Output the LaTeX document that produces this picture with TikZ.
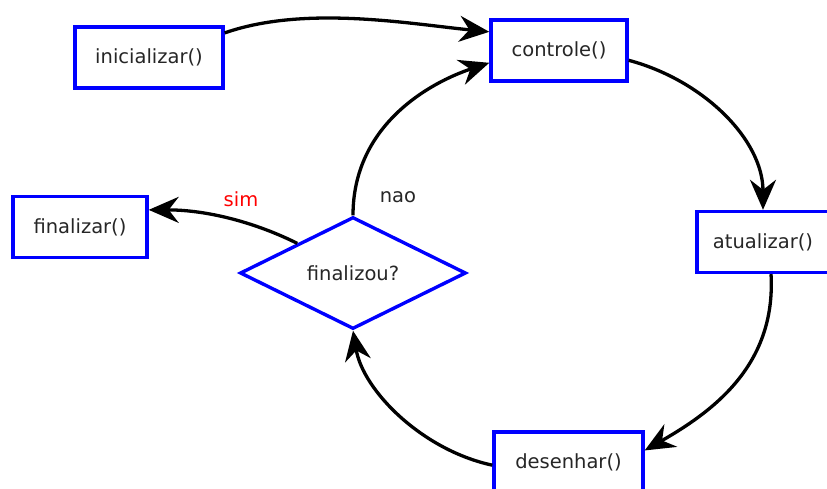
\documentclass[tikz,border=0pt]{standalone}
\usepackage{fontspec}
\setmainfont{DejaVu Sans}
\usetikzlibrary{shapes.geometric,arrows.meta}
\begin{document}
\begin{tikzpicture}[x=1pt,y=-1pt,
  every node/.style={font=\fontsize{19.5}{22}\selectfont, text=black!85},
  proc/.style={draw=blue, line width=3.4pt, fill=white, minimum width=148pt, minimum height=61pt, inner sep=0pt},
  cond/.style={draw=blue, line width=3.4pt, diamond, aspect=2.02, minimum width=226pt, minimum height=112pt, inner sep=0pt},
  flow/.style={draw=black, line width=3.3pt, -{Stealth[length=30pt 0,width=26pt 0,inset=10pt 0]}}]
\useasboundingbox (0,0) rectangle (827,488);
\node[proc] (ini) at (149,57.5) {inicializar()};
\node[proc, minimum width=136pt] (ctl) at (559,50.5) {controle()};
\node[proc, minimum width=132pt] (atu) at (763,242) {atualizar()};
\node[proc, minimum width=134pt] (fin) at (80,227) {finalizar()};
\node[proc, minimum width=149pt] (des) at (568.5,462.5) {desenhar()};
\node[cond] (dec) at (353,273) {finalizou?};
\node[text=red] (sim) at (241,199) {sim};
\node (nao) at (398,197) {nao};

\draw[flow] (ini.18) .. controls +(80,-28) and +(-80,-8) .. (ctl.165);
\draw[flow] (ctl.-8) .. controls +(75,20) and +(0,-70) .. (atu.north);
\draw[flow] (atu.-76) .. controls +(5,90) and +(70,-40) .. (des.9);
\draw[flow] (des.182) .. controls +(-70,-15) and +(10,60) .. (dec.south);
\draw[flow] (dec.north) .. controls +(0,-90) and +(-60,20) .. (ctl.190);
\draw[flow] (dec.152) .. controls +(-40,-20) and +(60,0) .. (fin.14);
\end{tikzpicture}
\end{document}
